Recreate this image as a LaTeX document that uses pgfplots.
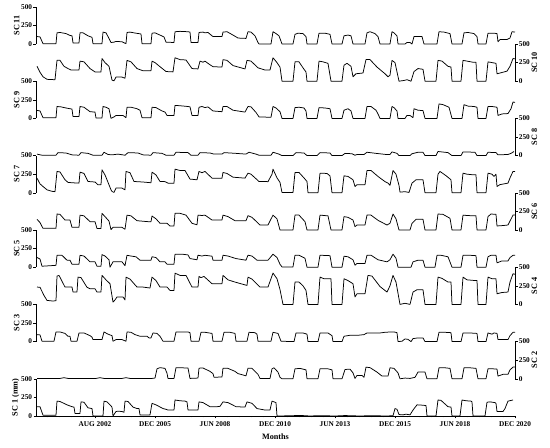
\documentclass[border=0pt]{standalone}
\usepackage{fontspec}
\setmainfont{Liberation Serif}
\usepackage{pgfplots}
\pgfplotsset{compat=1.18}
\pgfplotsset{
 sc/.style={scale only axis, width=479pt, height=37.2pt, xmin=36, xmax=515, ymin=0, ymax=500,
   clip=false, anchor=south west, ytick={0,250,500}, tick align=outside, major tick length=2.5pt,
   tick style={black, line width=0.5pt}, axis line style={black, line width=0.6pt},
   tick label style={font=\fontsize{7.3}{8}\selectfont\bfseries},
   /pgf/number format/assume math mode=true,
   label style={font=\fontsize{8.2}{9}\selectfont\bfseries},
   ylabel shift=-3pt, yticklabel style={inner sep=1.2pt}},
 scl/.style={sc, axis y line*=left, axis x line=none},
 scr/.style={sc, axis y line*=right, axis x line=none},
 ln/.style={black, line width=0.75pt, mark=none, line join=round},
}
\begin{document}
\begin{tikzpicture}
\path[use as bounding box] (0,0) rectangle (550pt,448pt);
% SC 1
\begin{axis}[sc, at={(36pt,32pt)}, axis y line*=left, axis x line*=bottom, ylabel={SC 1 (mm)},
  xtick={95,155,215,275,335,395,455,515},
  xticklabels={AUG 2002,DEC 2005,JUN 2008,DEC 2010,JUN 2013,DEC 2015,JUN 2018,DEC 2020},
  minor xtick={47,59,...,515}, minor tick length=1.5pt, xlabel={Months}, xlabel shift=0pt]
\addplot[ln] coordinates {(37,125)(40,125)(43,10)(56,10)(57,200)(60,195)(67,150)(72,125)(74,120)(75,35)(80,35)(81,190)(84,185)(88,110)(92,100)(93,0)(103,0)(104,200)(107,190)(110,150)(112,120)(113,0)(116,60)(118,65)(122,60)(124,50)(125,200)(128,195)(133,120)(137,100)(139,100)(140,15)(150,15)(152,170)(156,150)(163,100)(166,90)(168,80)(174,80)(175,215)(180,205)(185,200)(187,190)(188,80)(198,80)(199,190)(203,180)(210,125)(217,125)(220,130)(223,190)(228,180)(236,125)(245,120)(247,190)(252,170)(257,100)(265,80)(270,80)(272,200)(276,180)(277,0)(290,3)(300,8)(310,0)(320,5)(335,0)(345,6)(360,0)(372,5)(385,0)(393,3)(395,100)(397,90)(399,20)(403,15)(406,25)(410,15)(413,80)(417,150)(423,145)(426,140)(427,0)(436,0)(438,215)(441,210)(448,125)(451,120)(452,0)(460,0)(462,215)(466,205)(471,200)(472,190)(473,0)(485,0)(487,185)(490,190)(495,180)(496,170)(497,60)(503,60)(505,100)(508,200)(513,215)};
\end{axis}
% SC 2
\begin{axis}[scr, at={(36pt,69.2pt)}, ylabel={SC 2}]
\addplot[ln] coordinates {(37,5)(60,5)(64,15)(68,5)(96,5)(100,15)(104,5)(122,5)(126,15)(130,5)(152,5)(155,10)(157,134)(160,150)(165,140)(167,75)(168,5)(174,5)(176,150)(188,145)(190,5)(198,10)(199,143)(203,145)(210,100)(213,70)(214,20)(222,25)(223,143)(228,140)(235,100)(238,70)(246,40)(248,143)(252,140)(258,60)(260,5)(270,5)(272,134)(274,148)(278,90)(280,20)(282,0)(293,0)(295,134)(300,140)(306,120)(307,0)(318,0)(320,134)(328,134)(332,120)(333,0)(342,0)(345,125)(350,130)(353,80)(355,5)(357,45)(362,45)(364,20)(366,157)(370,150)(377,90)(382,36)(388,36)(390,148)(394,140)(398,80)(400,0)(405,10)(410,5)(415,20)(418,90)(425,90)(427,0)(437,0)(439,148)(445,148)(450,140)(452,0)(462,0)(464,148)(470,148)(476,140)(478,0)(486,0)(488,134)(493,134)(497,130)(498,36)(503,60)(508,60)(510,120)(513,157)(515,157)};
\end{axis}
% SC 3
\begin{axis}[scl, at={(36pt,106.4pt)}, ylabel={SC 3}]
\addplot[ln] coordinates {(37,94)(40,90)(42,5)(54,5)(56,130)(60,130)(65,110)(68,72)(70,72)(71,5)(77,5)(79,116)(84,116)(90,80)(92,60)(93,27)(102,27)(104,130)(108,100)(112,80)(113,5)(116,27)(122,27)(126,5)(127,130)(131,125)(135,94)(140,72)(147,72)(149,50)(151,50)(153,116)(157,110)(160,72)(163,5)(174,5)(176,130)(188,130)(190,120)(191,5)(199,5)(201,125)(205,125)(212,110)(213,5)(222,5)(224,125)(230,125)(235,110)(236,5)(247,5)(249,125)(255,120)(257,100)(258,5)(271,5)(273,125)(278,110)(281,5)(294,0)(296,116)(303,116)(307,100)(308,0)(318,0)(320,116)(328,116)(332,80)(333,0)(342,0)(344,72)(350,85)(358,85)(364,94)(367,116)(380,116)(385,125)(391,130)(394,130)(397,120)(398,0)(402,5)(405,36)(408,30)(411,0)(413,40)(418,50)(423,50)(425,0)(437,0)(439,125)(445,125)(451,120)(452,0)(461,0)(463,116)(470,116)(477,110)(478,0)(486,0)(488,116)(492,100)(494,116)(497,110)(498,27)(508,27)(510,80)(513,125)(515,125)};
\end{axis}
% SC 4
\begin{axis}[scr, at={(36pt,143.6pt)}, ylabel={SC 4}]
\addplot[ln] coordinates {(37,233)(40,230)(44,120)(47,54)(53,45)(56,50)(57,380)(59,390)(65,233)(72,233)(73,166)(77,166)(78,367)(81,360)(87,230)(90,210)(95,210)(97,166)(101,166)(102,390)(106,330)(110,278)(113,31)(115,60)(117,100)(123,100)(125,60)(126,367)(130,340)(137,233)(143,233)(150,220)(152,367)(156,320)(160,233)(167,233)(170,188)(174,188)(175,420)(180,390)(186,390)(192,233)(198,233)(199,376)(201,360)(204,376)(212,278)(222,278)(223,390)(228,330)(235,300)(247,255)(248,367)(252,340)(260,233)(268,233)(273,421)(277,345)(280,200)(283,0)(293,0)(295,300)(299,300)(303,250)(306,188)(308,0)(318,0)(320,367)(324,345)(331,345)(332,0)(342,0)(344,345)(348,320)(353,278)(355,100)(357,143)(365,143)(368,390)(372,380)(380,240)(387,166)(390,250)(393,390)(396,300)(400,0)(405,15)(410,0)(413,166)(417,197)(423,197)(425,0)(436,0)(438,367)(442,350)(448,300)(451,300)(452,0)(461,0)(463,367)(467,330)(474,322)(477,322)(478,0)(486,0)(488,367)(492,345)(496,345)(497,143)(502,160)(508,166)(510,300)(513,412)(515,405)};
\end{axis}
% SC 5
\begin{axis}[scl, at={(36pt,180.8pt)}, ylabel={SC 5}]
\addplot[ln] coordinates {(37,130)(40,110)(42,13)(56,25)(57,160)(62,160)(67,94)(70,94)(72,40)(79,40)(80,160)(84,150)(90,72)(95,72)(97,13)(101,13)(102,170)(105,150)(109,100)(110,0)(113,72)(122,72)(125,20)(127,160)(131,150)(136,140)(140,94)(147,94)(151,94)(152,140)(156,130)(160,72)(165,72)(167,40)(174,40)(175,175)(182,175)(188,165)(190,116)(197,100)(198,161)(202,150)(205,160)(212,148)(213,94)(222,94)(223,161)(228,150)(236,116)(246,94)(248,161)(252,150)(257,94)(268,94)(273,175)(277,130)(280,40)(282,4)(293,4)(295,161)(299,161)(305,120)(307,0)(318,0)(320,161)(330,155)(332,0)(342,0)(344,148)(348,140)(353,100)(355,27)(357,50)(365,50)(367,161)(371,161)(378,100)(387,72)(390,100)(393,175)(396,120)(398,0)(411,0)(413,72)(418,94)(423,94)(425,0)(435,0)(437,160)(441,160)(448,140)(452,0)(461,0)(463,160)(470,160)(476,155)(477,0)(486,0)(488,140)(491,160)(496,160)(497,58)(502,85)(508,85)(510,130)(513,160)(515,160)};
\end{axis}
% SC 6
\begin{axis}[scr, at={(36pt,218pt)}, ylabel={SC 6}]
\addplot[ln] coordinates {(37,143)(40,100)(43,22)(56,22)(57,215)(60,210)(65,134)(70,134)(72,36)(79,36)(80,200)(84,190)(90,112)(95,112)(97,20)(101,20)(102,224)(105,180)(109,120)(111,5)(113,36)(122,36)(125,10)(127,200)(131,190)(137,125)(148,112)(151,112)(152,188)(156,150)(160,90)(167,90)(170,54)(174,54)(175,224)(180,224)(186,200)(192,90)(197,70)(198,200)(202,195)(205,200)(212,134)(222,134)(223,200)(228,180)(235,125)(246,125)(248,193)(252,170)(260,67)(268,67)(273,200)(277,150)(280,0)(293,0)(295,200)(299,200)(305,112)(307,0)(318,0)(320,200)(328,190)(331,0)(342,0)(344,180)(348,170)(353,134)(355,45)(357,67)(365,67)(367,200)(371,200)(378,130)(387,67)(390,90)(393,215)(396,150)(399,0)(410,0)(412,90)(416,143)(423,143)(425,0)(436,0)(438,215)(443,210)(450,157)(452,0)(461,0)(463,200)(467,195)(474,190)(476,190)(477,0)(486,0)(488,180)(491,215)(496,210)(497,54)(503,60)(508,67)(510,120)(513,200)(515,200)};
\end{axis}
% SC 7
\begin{axis}[scl, at={(36pt,255.2pt)}, ylabel={SC 7}]
\addplot[ln] coordinates {(37,197)(40,120)(43,85)(47,40)(52,20)(55,15)(57,287)(60,280)(65,175)(68,140)(72,135)(79,130)(80,278)(84,260)(88,152)(95,145)(98,108)(101,110)(102,309)(105,240)(107,175)(111,40)(112,18)(114,5)(116,63)(122,63)(125,40)(126,287)(130,270)(134,152)(143,145)(151,135)(152,278)(156,240)(160,152)(165,150)(168,130)(174,130)(175,318)(180,300)(185,300)(190,184)(197,175)(199,287)(202,270)(205,287)(212,197)(222,197)(223,273)(227,260)(233,210)(245,197)(248,264)(251,250)(259,152)(268,150)(272,250)(273,318)(277,200)(280,140)(282,4)(293,4)(295,273)(299,273)(304,200)(307,152)(308,0)(318,0)(320,264)(327,260)(330,228)(332,0)(342,0)(344,228)(348,220)(353,175)(355,85)(357,108)(365,108)(367,300)(371,300)(378,220)(385,150)(388,130)(390,100)(393,300)(396,250)(399,100)(400,9)(405,15)(409,5)(412,130)(416,175)(423,175)(425,0)(436,0)(438,250)(440,287)(446,230)(451,175)(452,0)(461,0)(463,264)(467,250)(473,242)(476,242)(477,0)(486,0)(488,264)(492,250)(494,220)(496,250)(497,85)(500,110)(508,130)(510,200)(513,287)(515,285)};
\end{axis}
% SC 8
\begin{axis}[scr, at={(36pt,292.4pt)}, ylabel={SC 8}]
\addplot[ln] coordinates {(37,20)(42,5)(56,5)(58,40)(66,35)(72,10)(79,5)(81,40)(88,30)(93,5)(102,5)(104,45)(108,15)(112,10)(118,20)(125,5)(128,40)(138,35)(143,10)(151,5)(153,40)(162,30)(166,5)(174,5)(176,45)(188,40)(191,5)(198,5)(200,40)(210,35)(214,20)(222,20)(224,40)(236,30)(246,20)(249,45)(256,20)(259,5)(271,5)(273,45)(279,20)(282,0)(293,0)(296,40)(304,35)(307,0)(317,0)(320,40)(330,35)(332,0)(342,0)(345,30)(352,25)(355,5)(357,15)(364,15)(367,45)(376,30)(386,15)(390,15)(392,50)(397,30)(399,0)(410,0)(412,25)(418,45)(423,45)(425,0)(436,0)(438,55)(448,40)(452,0)(461,0)(463,50)(475,45)(477,0)(486,0)(488,45)(496,40)(498,10)(508,15)(511,30)(514,55)};
\end{axis}
% SC 9
\begin{axis}[scl, at={(36pt,329.6pt)}, ylabel={SC 9}]
\addplot[ln] coordinates {(37,108)(40,100)(43,10)(56,10)(57,160)(61,155)(66,140)(70,130)(72,125)(73,25)(79,25)(80,160)(84,150)(90,90)(95,85)(96,5)(102,5)(103,160)(106,150)(109,130)(111,0)(114,20)(116,40)(123,40)(126,10)(127,150)(131,150)(137,130)(140,110)(142,10)(151,10)(152,150)(156,145)(162,100)(165,85)(167,40)(174,40)(175,175)(180,170)(188,160)(190,155)(192,40)(198,40)(199,150)(202,160)(205,145)(208,155)(212,110)(213,100)(222,90)(223,160)(227,160)(233,110)(245,85)(248,160)(251,155)(256,80)(259,20)(271,15)(273,160)(276,140)(280,90)(282,0)(293,0)(295,145)(299,150)(304,140)(306,100)(307,0)(317,0)(319,145)(325,140)(330,130)(332,0)(342,0)(344,110)(348,130)(351,100)(353,0)(365,0)(367,160)(371,160)(376,110)(378,60)(380,0)(390,0)(392,160)(394,145)(397,100)(398,0)(405,0)(407,40)(410,40)(413,10)(414,130)(418,110)(423,105)(425,0)(437,0)(439,195)(443,185)(449,150)(452,0)(462,0)(464,185)(468,165)(474,160)(477,150)(478,0)(486,0)(488,160)(492,160)(497,150)(498,40)(502,60)(508,65)(511,130)(513,220)(515,215)};
\end{axis}
% SC 10
\begin{axis}[scr, at={(36pt,366.8pt)}, ylabel={SC 10}]
\addplot[ln] coordinates {(37,200)(40,120)(43,60)(47,25)(55,20)(57,280)(60,280)(64,200)(68,170)(71,150)(79,150)(80,270)(84,260)(90,170)(95,125)(101,125)(102,305)(105,250)(109,200)(112,15)(114,5)(116,55)(122,55)(125,40)(127,280)(131,260)(137,170)(143,140)(151,140)(152,270)(155,250)(160,195)(166,130)(173,125)(175,315)(180,290)(186,285)(192,170)(198,165)(200,270)(203,255)(205,270)(209,230)(213,195)(222,190)(223,290)(227,280)(233,210)(245,165)(247,280)(251,270)(258,180)(265,150)(270,150)(273,315)(277,250)(280,190)(282,0)(293,0)(295,260)(299,260)(304,160)(306,125)(307,0)(317,0)(319,270)(323,260)(328,240)(331,0)(342,0)(344,215)(347,240)(351,200)(353,60)(356,100)(363,110)(366,290)(370,290)(377,190)(385,100)(388,60)(390,80)(392,280)(395,250)(399,0)(404,10)(407,20)(411,0)(414,130)(418,170)(423,160)(425,0)(436,0)(438,280)(442,270)(448,200)(451,190)(452,0)(461,0)(463,280)(467,270)(473,255)(476,255)(477,0)(486,0)(488,260)(492,250)(496,240)(497,100)(500,110)(507,135)(510,200)(513,305)(515,300)};
\end{axis}
% SC 11
\begin{axis}[scl, at={(36pt,404pt)}, ylabel={SC 11}]
\addplot[ln] coordinates {(37,100)(40,95)(43,5)(56,5)(57,150)(60,155)(66,140)(70,115)(72,110)(73,15)(79,15)(80,150)(83,150)(88,110)(92,90)(93,5)(102,5)(103,160)(106,150)(108,100)(111,20)(114,25)(116,35)(122,30)(125,10)(126,5)(127,155)(130,160)(136,145)(141,135)(142,5)(151,5)(152,145)(155,150)(160,120)(164,95)(166,25)(174,20)(175,165)(180,170)(188,165)(190,160)(191,20)(198,20)(199,155)(203,160)(205,150)(208,155)(212,110)(213,100)(222,100)(223,160)(227,165)(233,120)(238,80)(246,75)(248,165)(251,160)(255,110)(258,20)(259,0)(271,0)(273,165)(276,140)(279,110)(282,0)(293,0)(295,130)(298,145)(303,140)(306,100)(307,0)(317,0)(319,145)(325,145)(330,130)(332,0)(342,0)(344,110)(348,120)(351,110)(353,0)(365,0)(367,150)(370,165)(375,140)(378,100)(380,0)(390,0)(392,165)(394,150)(397,110)(398,0)(405,0)(407,20)(410,20)(412,0)(414,100)(418,100)(422,100)(424,0)(437,0)(439,165)(444,160)(450,140)(452,0)(462,0)(464,150)(468,155)(474,140)(477,100)(478,0)(486,0)(488,145)(494,145)(497,140)(498,30)(500,60)(507,60)(510,80)(512,165)(515,160)};
\end{axis}
\end{tikzpicture}
\end{document}
